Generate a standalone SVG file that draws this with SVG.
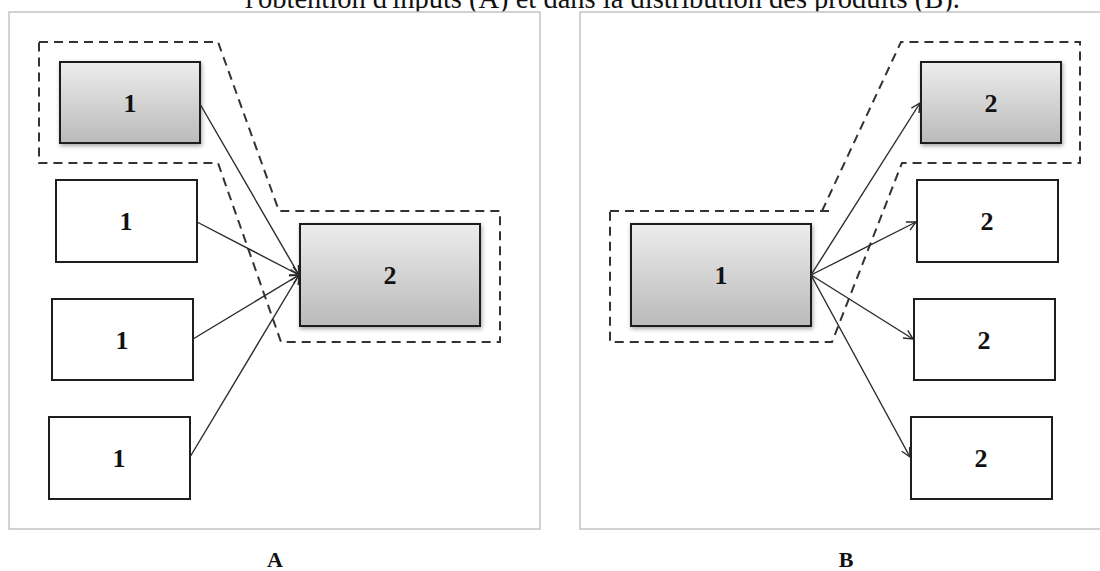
<svg xmlns="http://www.w3.org/2000/svg" width="1100" height="571" viewBox="0 0 1100 571">
<style>
.panel{fill:#fff;stroke:#c4c4c4;stroke-width:1.5}
.box{stroke:#1e1e1e;stroke-width:2}
.white{fill:#fff}
.gray{fill:url(#g);filter:url(#sh)}
.dash{fill:none;stroke:#333;stroke-width:2;stroke-dasharray:9 6}
text{font-family:'Liberation Serif','Times New Roman',Tinos,Times,serif;fill:#111}
.num{font-weight:bold;font-size:26px;text-anchor:middle}
.lab{font-weight:bold;font-size:22px;text-anchor:middle}
.title{font-size:28.5px}
.conn line{stroke:#2a2a2a;stroke-width:1.4;marker-end:url(#arr)}
</style>
<defs>
<linearGradient id="g" x1="0" y1="0" x2="0" y2="1">
<stop offset="0" stop-color="#ededed"/>
<stop offset="1" stop-color="#bababa"/>
</linearGradient>
<filter id="sh" x="-10%" y="-10%" width="125%" height="130%">
<feDropShadow dx="1" dy="2" stdDeviation="2" flood-color="#000" flood-opacity="0.35"/>
</filter>
<marker id="arr" markerUnits="userSpaceOnUse" markerWidth="12" markerHeight="12" refX="10" refY="5" orient="auto" viewBox="0 0 12 10">
<path d="M1,0.5 L10,5 L1,9.5" fill="none" stroke="#2a2a2a" stroke-width="1.4"/>
</marker>
</defs>
<rect width="1100" height="571" fill="#fff"/>
<text class="title" x="245" y="8">l'obtention d'inputs (A) et dans la distribution des produits (B).</text>
<g id="panelA">
<rect class="panel" x="9" y="12" width="531" height="517"/>
</g>
<g id="panelB">
<rect class="panel" x="580" y="12" width="530" height="517"/>
</g>
<g id="groupA">
<path class="dash" d="M39,42 L218,42 L279,211 L500,211 L500,342 L281,342 L218,163 L39,163 Z"/>
</g>
<g id="groupB">
<path class="dash" d="M610,211 L830,211 M822,211 L901,42 L1080,42 L1080,163 L902,163 L832,342 L610,342 L610,211"/>
</g>
<g id="a1"><rect class="box gray" x="60" y="62" width="140" height="81"/><text class="num" x="130" y="112">1</text></g>
<g id="a2"><rect class="box white" x="56" y="180" width="141" height="82"/><text class="num" x="126" y="230">1</text></g>
<g id="a3"><rect class="box white" x="52" y="299" width="141" height="81"/><text class="num" x="122" y="349">1</text></g>
<g id="a4"><rect class="box white" x="49" y="417" width="141" height="82"/><text class="num" x="119" y="467">1</text></g>
<g id="a5"><rect class="box gray" x="300" y="224" width="180" height="102"/><text class="num" x="390" y="284">2</text></g>
<g id="b1"><rect class="box gray" x="631" y="224" width="180" height="102"/><text class="num" x="721" y="284">1</text></g>
<g id="b2"><rect class="box gray" x="921" y="62" width="140" height="81"/><text class="num" x="991" y="112">2</text></g>
<g id="b3"><rect class="box white" x="917" y="180" width="141" height="82"/><text class="num" x="987" y="230">2</text></g>
<g id="b4"><rect class="box white" x="914" y="299" width="141" height="81"/><text class="num" x="984" y="349">2</text></g>
<g id="b5"><rect class="box white" x="911" y="417" width="141" height="82"/><text class="num" x="981" y="467">2</text></g>
<g id="connectors" class="conn">
<line x1="200" y1="104" x2="299" y2="275"/>
<line x1="197" y1="222" x2="299" y2="275"/>
<line x1="193" y1="339" x2="299" y2="275"/>
<line x1="190" y1="457" x2="299" y2="275"/>
<line x1="811" y1="275" x2="920" y2="103"/>
<line x1="811" y1="275" x2="916" y2="222"/>
<line x1="811" y1="275" x2="913" y2="339"/>
<line x1="811" y1="275" x2="910" y2="457"/>
</g>
<text class="lab" x="275" y="567">A</text>
<text class="lab" x="846" y="567">B</text>
</svg>
